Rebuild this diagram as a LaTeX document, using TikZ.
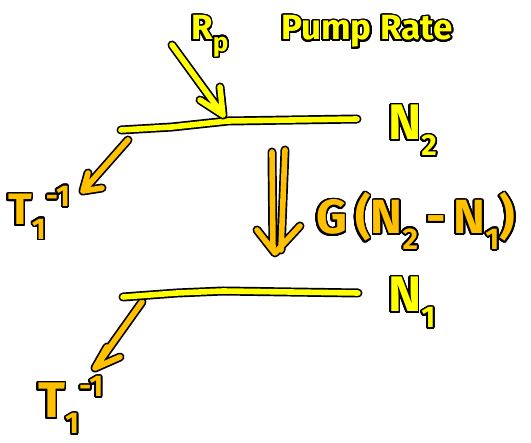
\documentclass[tikz,border=0pt]{standalone}
\usepackage{fontspec}
\setmainfont{Fira Sans}
\usepackage{contour}
\contourlength{1.7pt}
\contournumber{32}
\definecolor{hy}{HTML}{FFFF00}
\definecolor{ho}{HTML}{FFC000}
\newcommand{\lsub}[1]{\raisebox{-0.32em}{\fontsize{30}{30}\selectfont #1}}
\newcommand{\lsup}[1]{\raisebox{0.42em}{\fontsize{30}{30}\selectfont #1}}
\tikzset{
  ystroke/.style={draw=black, line width=9pt, line cap=round, line join=round,
    postaction={draw=hy, line width=5.6pt, line cap=round, line join=round}},
  ostroke/.style={draw=black, line width=9pt, line cap=round, line join=round,
    postaction={draw=ho, line width=5.6pt, line cap=round, line join=round}},
  ylab/.style={text=hy, inner sep=0pt, anchor=base west},
  olab/.style={text=ho, inner sep=0pt, anchor=base west},
}
\begin{document}
\begin{tikzpicture}[x=1pt,y=-1pt]
\useasboundingbox (0,0) rectangle (531,443);
% level coordinates
\coordinate (u0) at (121,130);
\coordinate (u1) at (172,127);
\coordinate (u2) at (228,121);
\coordinate (u3) at (357,119);
\coordinate (l0) at (123,297);
\coordinate (l1) at (177,293);
\coordinate (l2) at (223,291);
\coordinate (l3) at (358,293);
% pump arrow
\coordinate (ps) at (172,45);
\coordinate (pt) at (223,115);
\coordinate (pb1) at (200,100);
\coordinate (pb2) at (220,87);
% upper decay
\coordinate (us) at (128,140);
\coordinate (ut) at (83,191);
\coordinate (ub1) at (88,173);
\coordinate (ub2) at (102,188);
% lower decay
\coordinate (ls) at (142,302);
\coordinate (lt) at (95,368);
\coordinate (lb1) at (107,347);
\coordinate (lb2) at (120,357);
% stimulated emission double arrow
\coordinate (da1) at (272,152);
\coordinate (da2) at (273,250);
\coordinate (db1) at (285,150);
\coordinate (db2) at (281,250);
\coordinate (dt) at (275,253);
\coordinate (dh1) at (257,230);
\coordinate (dh2) at (300,226);

% decay arrows (drawn first, under the levels)
\draw[ostroke] (us) -- (ut) (ub1) -- (ut) -- (ub2);
\draw[ostroke] (ls) -- (lt) (lb1) -- (lt) -- (lb2);
% levels
\draw[ystroke] (u0) -- (u1) -- (u2) -- (u3);
\draw[ystroke] (l0) -- (l1) -- (l2) -- (l3);
% pump arrow
\draw[ystroke] (ps) -- (pt) (pb1) -- (pt) -- (pb2);
% double arrow
\draw[ostroke] (da1) -- (da2) (db1) -- (db2) (dh1) -- (dt) -- (dh2);

% labels
\node[ylab, font=\bfseries\fontsize{35}{35}\selectfont] (rp) at (191,40) {\contour{black}{R\lsub{\fontsize{26}{26}\selectfont p}}};
\node[ylab, font=\bfseries\fontsize{35}{35}\selectfont] (pr) at (281,40) {\contour{black}{Pump Rate}};
\node[ylab, font=\bfseries\fontsize{50}{50}\selectfont] (n2) at (388,140) {\contour{black}{N\lsub{2}}};
\node[ylab, font=\bfseries\fontsize{50}{50}\selectfont] (n1) at (388,312) {\contour{black}{N\lsub{1}}};
\node[olab, font=\bfseries\fontsize{48}{48}\selectfont] (g) at (316,234) {\contour{black}{G\,(N\lsub{2}\,-\,N\lsub{1})}};
\node[olab, font=\bfseries\fontsize{44}{44}\selectfont] (t1) at (8,225) {\contour{black}{T\lsub{1}\lsup{-1}}};
\node[olab, font=\bfseries\fontsize{50}{50}\selectfont] (t2) at (38,418) {\contour{black}{T\lsub{1}\lsup{-1}}};
\end{tikzpicture}
\end{document}
